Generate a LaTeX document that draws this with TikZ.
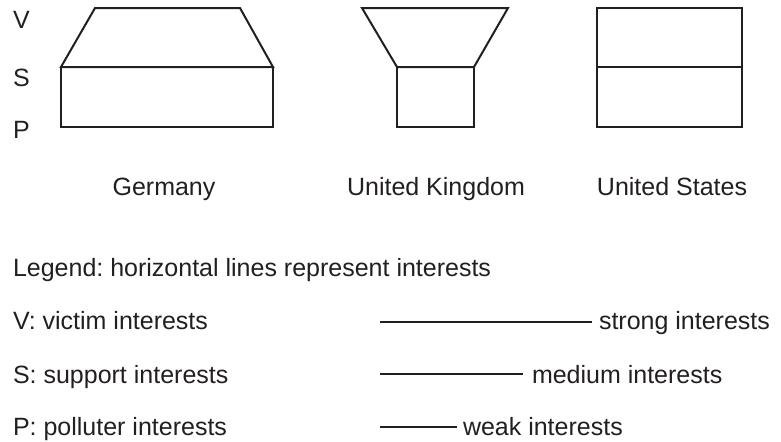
\documentclass[tikz,border=0pt]{standalone}
\usepackage{fontspec}
\setmainfont{Liberation Sans}
\definecolor{ink}{HTML}{231F20}
\frenchspacing
\begin{document}
\begin{tikzpicture}[x=0.5pt,y=-0.5pt,
  every node/.style={inner sep=0pt,outer sep=0pt,text=ink,font=\fontsize{12.5}{14}\selectfont},
  lbl/.style={anchor=base west},
  cty/.style={anchor=base},
  outline/.style={draw=ink,line width=1pt,line join=miter},
  legline/.style={draw=ink,line width=1pt}]
\useasboundingbox (0,0) rectangle (781,441);

% level labels
\node[lbl] (lv) at (13,28) {V};
\node[lbl] (ls) at (13,86) {S};
\node[lbl] (lp) at (13,138) {P};

% Germany
\draw[outline] (61,67) -- (95,8) -- (240,8) -- (273,67) -- cycle;
\draw[outline] (61,67) rectangle (273,127);
% United Kingdom
\draw[outline] (397,67) -- (362,8) -- (508,8) -- (474,67) -- cycle;
\draw[outline] (397,67) rectangle (474,127);
% United States
\draw[outline] (597,8) rectangle (742,127);
\draw[outline] (597,67) -- (742,67);

% country names
\node[cty] (de) at (164,195) {Germany};
\node[cty] (uk) at (436,195) {United Kingdom};
\node[cty] (us) at (672,195) {United States};

% legend
\node[lbl] (leg) at (13,276) {Legend: horizontal lines represent interests};
\node[lbl] (kv) at (13,329) {V: victim interests};
\node[lbl] (ks) at (13,383) {S: support interests};
\node[lbl] (kp) at (13,435) {P: polluter interests};

\coordinate (s0) at (380,322);
\coordinate (s1) at (592,322);
\coordinate (m0) at (380,374);
\coordinate (m1) at (523,374);
\coordinate (w0) at (380,427);
\coordinate (w1) at (457,427);
\draw[legline] (s0) -- (s1);
\draw[legline] (m0) -- (m1);
\draw[legline] (w0) -- (w1);
\node[lbl] (strong) at (599,329) {strong interests};
\node[lbl] (medium) at (532,383) {medium interests};
\node[lbl] (weak) at (463,435) {weak interests};
\end{tikzpicture}
\end{document}
